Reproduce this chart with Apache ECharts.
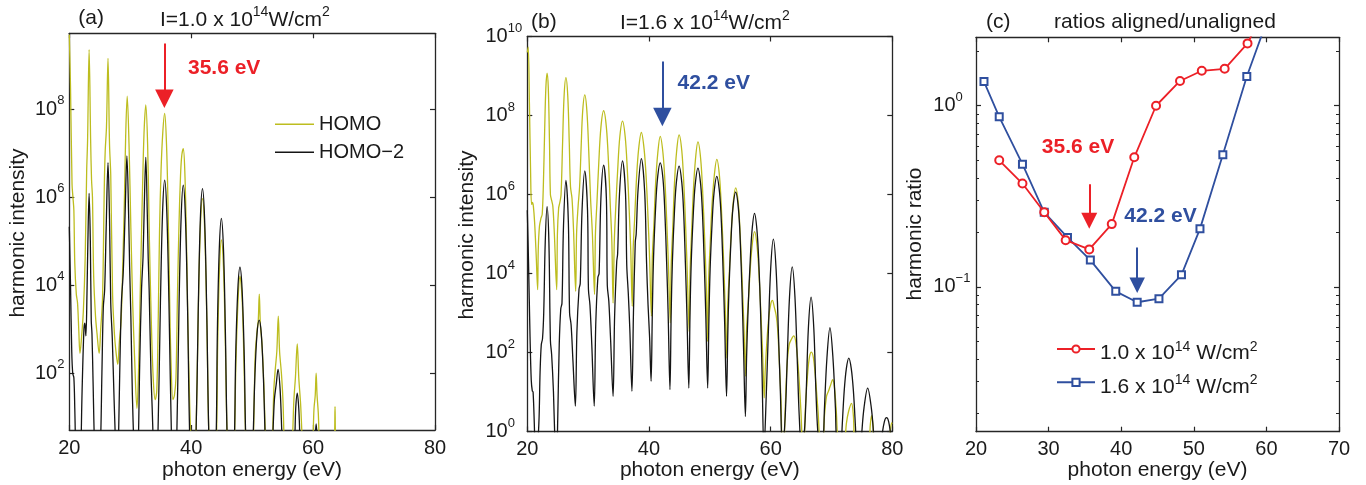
<!DOCTYPE html>
<html><head><meta charset="utf-8">
<script src="https://cdn.jsdelivr.net/npm/echarts@6/dist/echarts.min.js"></script>
<style>html,body{margin:0;padding:0;background:#fff}#c{width:1366px;height:485px}</style>
</head><body><div id="c"></div>
<script>
// ---------------- DATA ----------------
// Panels (a),(b): [photon energy (eV), log10(harmonic intensity)]
const panelA_HOMO_log10 = [
[20.0,9.7],[20.2,8.5],[20.45,6.3],[20.6,6.0],[20.75,5.7],[20.9,4.5],[21.15,3.8],[21.35,3.6],[21.55,3.0],[21.75,2.45],[22.0,2.8],[22.3,3.4],
[22.6,4.6],[22.85,6.6],[23.0,7.3],[23.25,9.36],[23.5,7.3],[23.65,6.4],[23.8,6.0],[24.0,4.2],[24.3,3.3],[24.55,2.9],[24.9,2.45],[25.15,3.0],[25.45,3.7],
[25.75,6.3],[25.9,7.08],[26.1,7.6],[26.35,9.16],[26.6,7.2],[26.8,6.5],[27.1,3.8],[27.4,2.9],[27.65,2.5],[27.95,2.2],[28.2,2.7],[28.5,3.2],
[28.8,4.6],[29.05,6.0],[29.25,7.4],[29.5,8.30],[29.8,7.2],[30.1,5.3],[30.4,3.6],[30.7,2.4],[31.1,1.2],[31.35,2.0],[31.6,3.6],
[31.85,5.2],[32.1,6.7],[32.3,7.6],[32.55,8.10],[32.85,7.2],[33.1,5.3],[33.45,3.2],[33.78,1.85],[34.1,1.4],[34.35,1.6],[34.6,3.3],
[34.8,5.2],[35.05,6.6],[35.35,7.5],[35.65,7.91],[35.95,7.2],[36.2,5.8],[36.45,3.8],[36.7,2.2],[37.0,1.4],[37.25,1.5],[37.5,1.9],[37.75,3.8],
[38.0,5.4],[38.25,6.5],[38.45,6.95],[38.7,7.11],[38.95,6.6],[39.2,5.2],[39.45,3.2],[39.75,1.3],[40.0,0.3],[40.35,-1],
[40.75,0.3],[41.15,3.3],[41.5,5.3],[41.85,5.97],[42.2,5.3],[42.55,3.3],[42.95,0.3],[43.5,-1],
[44.1,0.3],[44.35,2.7],[44.65,4.4],[44.95,5.03],[45.3,4.4],[45.6,2.7],[45.95,0.3],[46.5,-1],
[47.05,0.3],[47.35,2.3],[47.7,3.7],[48.0,4.2],[48.35,3.7],[48.65,2.3],[49.0,0.3],[49.6,-1],
[50.15,0.3],[50.5,2.4],[50.8,2.95],[51.0,3.2],[51.17,3.8],[51.35,3.1],[51.6,2.7],[51.9,1.8],[52.25,0.3],[52.8,-1],
[53.3,0.3],[53.55,1.6],[53.8,2.1],[54.05,2.5],[54.29,3.3],[54.5,2.5],[54.8,2.0],[55.05,1.4],[55.3,0.3],[55.9,-1],
[56.55,0.3],[56.85,1.4],[57.1,1.9],[57.4,2.67],[57.65,1.9],[57.95,1.3],[58.3,0.3],[59.1,-1],
[59.9,0.3],[60.15,1.2],[60.35,1.5],[60.5,2.0],[60.65,1.5],[60.85,1.1],[61.1,0.3],[62.2,-1],
[63.45,0.3],[63.6,1.24],[63.72,0.3],[64.5,-1],[80,-1]
];
const panelA_HOMO2_log10 = [
[20.0,5.33],[20.2,4.0],[20.4,2.5],[20.56,2.0],[20.75,1.9],[20.9,1.2],[21.1,0.0],[21.5,-1],
[21.85,0.0],[22.1,1.6],[22.4,3.0],[22.55,3.14],[22.72,2.85],[22.9,3.8],[23.05,5.0],[23.25,6.09],[23.45,5.0],[23.6,3.2],[23.72,2.9],[23.9,1.8],[24.15,0.3],[24.6,-1],
[25.1,0.3],[25.35,2.0],[25.58,3.5],[25.8,3.9],[26.05,5.3],[26.35,6.79],[26.6,5.5],[26.8,3.6],[27.05,2.8],[27.35,1.4],[27.6,0.3],[27.85,-1],
[28.05,0.3],[28.3,2.2],[28.55,3.6],[28.85,4.3],[29.15,5.6],[29.45,6.94],[29.75,5.5],[29.9,4.4],[30.1,3.3],[30.35,1.5],[30.6,0.3],[30.9,-1],
[31.3,0.3],[31.55,2.2],[31.85,3.9],[32.1,4.65],[32.3,5.8],[32.55,6.91],[32.8,5.6],[32.95,4.6],[33.1,3.9],[33.4,2.0],[33.6,1.2],[33.8,0.3],[34.1,-1],
[34.5,0.3],[34.95,3.6],[35.3,5.65],[35.65,6.39],[36.0,5.65],[36.35,3.6],[36.8,0.3],[37.2,-1],
[37.6,0.3],[38.0,3.5],[38.35,5.55],[38.7,6.28],[39.05,5.55],[39.4,3.5],[39.8,0.3],[40.3,-1],
[40.75,0.3],[41.15,3.4],[41.5,5.5],[41.85,6.2],[42.2,5.5],[42.55,3.4],[42.95,0.3],[43.5,-1],
[44.05,0.3],[44.3,3.0],[44.6,4.8],[44.95,5.52],[45.3,4.8],[45.6,3.0],[45.95,0.3],[46.5,-1],
[47.05,0.3],[47.3,2.4],[47.65,3.9],[48.0,4.41],[48.35,3.9],[48.7,2.4],[49.0,0.3],[49.6,-1],
[50.1,0.3],[50.45,1.94],[50.8,2.9],[51.15,3.21],[51.5,2.9],[51.85,1.9],[52.2,0.3],[52.7,-1],
[53.3,0.3],[53.65,1.4],[53.95,1.75],[54.25,2.09],[54.6,1.6],[55.0,0.3],[55.8,-1],
[56.9,0.3],[57.15,1.2],[57.4,1.55],[57.65,1.2],[57.95,0.3],[59.0,-1],
[60.25,0.3],[60.5,0.85],[60.75,0.3],[61.5,-1],[80,-1]
];
const panelB_HOMO_log10 = [
[20.0,9.6],[20.15,9.73],[20.35,8.3],[20.55,6.5],[20.7,5.75],[20.85,5.8],[21.0,5.7],[21.2,5.3],[21.45,4.5],[21.7,3.59],
[21.8,4.6],[22.0,5.2],[22.25,5.4],[22.45,5.5],[22.65,6.3],[22.85,7.6],[23.05,8.7],[23.25,9.07],[23.45,8.7],[23.65,7.3],[23.8,6.0],[24.0,5.85],[24.2,5.7],[24.45,5.0],[24.83,3.59],
[24.95,5.0],[25.15,5.65],[25.35,5.8],[25.55,6.0],[25.8,7.3],[26.05,8.5],[26.35,8.96],[26.65,8.5],[26.9,7.3],[27.1,6.2],[27.35,5.9],[27.6,5.1],[27.95,3.55],
[28.1,5.0],[28.35,5.7],[28.6,6.2],[28.85,7.2],[29.1,8.1],[29.45,8.52],[29.8,8.1],[30.1,7.1],[30.4,5.9],[30.7,5.0],[31.05,3.47],
[31.2,5.0],[31.45,5.8],[31.75,6.8],[32.1,7.7],[32.55,8.12],[33.0,7.7],[33.35,6.8],[33.65,5.7],[33.9,4.8],[34.1,3.25],
[34.3,4.8],[34.55,5.7],[34.85,6.6],[35.2,7.45],[35.65,7.86],[36.1,7.45],[36.45,6.6],[36.75,5.6],[37.0,4.6],[37.25,3.17],
[37.4,4.6],[37.65,5.4],[37.95,6.4],[38.3,7.15],[38.75,7.57],[39.2,7.15],[39.55,6.4],[39.85,5.4],[40.1,4.4],[40.4,2.92],
[40.55,4.4],[40.8,5.2],[41.1,6.3],[41.45,7.05],[41.85,7.47],[42.3,7.05],[42.65,6.25],[42.95,5.2],[43.2,4.2],[43.5,2.75],
[43.65,4.2],[43.9,5.1],[44.2,6.3],[44.55,7.1],[44.95,7.51],[45.4,7.1],[45.75,6.2],[46.05,5.1],[46.3,4.0],[46.6,2.53],
[46.75,4.0],[47.0,5.0],[47.3,6.1],[47.65,6.9],[48.05,7.33],[48.5,6.9],[48.85,6.0],[49.15,4.9],[49.4,3.8],[49.65,2.28],
[49.8,3.8],[50.05,4.7],[50.35,5.7],[50.75,6.5],[51.15,6.89],[51.6,6.45],[51.95,5.5],[52.25,4.4],[52.5,3.3],[52.8,1.86],
[52.95,3.2],[53.2,4.0],[53.5,5.0],[53.85,5.8],[54.25,6.17],[54.7,5.75],[55.05,4.8],[55.35,3.7],[55.6,2.7],[55.9,1.40],
[56.05,2.6],[56.3,3.2],[56.6,4.0],[56.95,4.7],[57.35,5.06],[57.8,4.65],[58.15,3.8],[58.45,2.8],[58.7,1.9],[58.95,0.85],
[59.1,1.5],[59.35,2.2],[59.7,2.9],[60.05,3.25],[60.3,3.32],[60.6,3.15],[60.9,2.95],[61.15,2.6],[61.45,1.7],[61.7,0.8],[61.95,-0.5],
[62.2,-0.3],[62.45,0.8],[62.75,1.8],[63.05,2.2],[63.3,2.3],[63.8,2.42],[64.2,2.2],[64.6,1.5],[64.95,0.6],[65.3,-0.3],
[65.45,-0.3],[65.75,0.7],[66.1,1.5],[66.4,1.9],[66.7,2.01],[67.05,1.85],[67.4,1.3],[67.8,0.5],[68.2,-0.3],
[68.55,-0.3],[68.85,0.4],[69.2,0.9],[69.5,1.02],[69.8,1.15],[70.2,1.31],[70.5,1.1],[70.8,0.5],[71.1,-0.3],
[71.6,-0.5],[72.15,-0.3],[72.45,0.2],[72.8,0.5],[73.3,0.71],[73.6,0.4],[73.85,-0.3],
[75.0,-0.5],[76.1,-0.3],[76.4,0.2],[76.6,0.40],[76.8,0.2],[77.05,-0.3],
[78.3,-0.5],[79.45,-0.3],[79.7,0.05],[79.9,0.22],[80.0,0.2]
];
const panelB_HOMO2_log10 = [
[20.0,5.6],[20.2,4.3],[20.45,2.4],[20.65,1.3],[20.82,1.03],[20.95,1.0],[21.15,0.2],[21.4,-1],
[21.9,0.2],[22.1,1.5],[22.3,2.2],[22.5,2.35],[22.7,3.0],[22.95,4.8],[23.25,5.69],[23.55,4.8],[23.8,2.3],[24.0,1.95],[24.3,1.0],[24.55,-0.3],[24.8,-1],
[25.0,0.3],[25.25,2.2],[25.5,3.1],[25.7,3.25],[25.95,5.2],[26.35,6.36],[26.75,5.3],[26.95,3.0],[27.2,2.7],[27.5,1.8],[27.9,0.64],
[28.15,2.5],[28.5,3.6],[28.7,3.75],[29.0,5.6],[29.45,6.60],[29.9,5.6],[30.05,3.6],[30.3,3.2],[30.6,2.2],[31.0,0.64],
[31.25,2.7],[31.6,3.9],[31.8,4.0],[32.1,5.9],[32.55,6.74],[33.0,5.9],[33.15,3.7],[33.4,3.3],[33.7,2.3],[34.1,0.89],
[34.35,2.9],[34.7,4.3],[34.85,4.5],[35.15,6.0],[35.65,6.85],[36.15,6.0],[36.35,4.2],[36.6,3.5],[36.85,2.6],[37.2,1.02],
[37.45,3.0],[37.75,4.8],[37.9,5.0],[38.2,6.1],[38.75,6.91],[39.3,6.05],[39.6,4.3],[39.85,3.2],[40.1,2.4],[40.35,1.27],
[40.55,3.0],[40.75,4.4],[41.1,5.7],[41.4,6.4],[41.85,6.80],[42.3,6.4],[42.6,5.6],[42.9,4.3],[43.15,3.0],[43.45,1.06],
[43.65,3.0],[43.85,4.3],[44.2,5.6],[44.5,6.3],[44.95,6.72],[45.4,6.3],[45.7,5.55],[46.0,4.2],[46.25,2.9],[46.55,1.10],
[46.75,3.0],[46.95,4.3],[47.3,5.55],[47.6,6.25],[48.05,6.67],[48.5,6.25],[48.8,5.5],[49.1,4.2],[49.35,2.9],[49.65,1.10],
[49.85,2.8],[50.05,4.1],[50.4,5.35],[50.7,6.05],[51.15,6.46],[51.6,6.05],[51.9,5.3],[52.2,4.0],[52.45,2.7],[52.75,0.89],
[52.95,2.4],[53.15,3.6],[53.5,4.9],[53.8,5.65],[54.25,6.06],[54.7,5.65],[55.0,4.85],[55.3,3.5],[55.55,2.1],[55.85,0.38],
[56.05,1.9],[56.3,3.1],[56.65,4.35],[56.95,5.1],[57.35,5.52],[57.75,5.1],[58.05,4.3],[58.35,3.0],[58.6,1.4],[58.9,-0.5],
[59.3,1.0],[59.6,2.4],[60.0,4.1],[60.45,4.87],[60.9,4.1],[61.3,2.4],[61.6,1.0],[61.95,-0.5],
[62.4,0.4],[62.7,1.7],[63.1,3.4],[63.55,4.17],[64.0,3.4],[64.4,1.7],[64.7,0.4],[65.1,-0.5],
[65.55,0.0],[65.85,1.0],[66.2,2.6],[66.65,3.40],[67.1,2.6],[67.45,1.0],[67.75,0.0],[68.15,-0.5],
[68.6,-0.3],[68.85,0.6],[69.25,1.85],[69.75,2.63],[70.25,1.85],[70.65,0.6],[70.9,-0.3],
[71.55,-0.5],[71.75,0.1],[72.1,1.04],[72.45,1.6],[72.85,1.86],[73.25,1.6],[73.6,1.04],[73.95,0.1],[74.15,-0.5],
[74.8,-0.5],[75.0,0.0],[75.35,0.6],[75.95,1.10],[76.55,0.6],[76.9,0.0],[77.1,-0.5],
[77.95,-0.5],[78.3,-0.1],[78.7,0.25],[79.05,0.35],[79.4,0.25],[79.75,-0.1],[80.0,-0.4]
];
// Panel (c): harmonic ratio aligned/unaligned
const panelC_energy_I10 = [23.2, 26.4, 29.4, 32.35, 35.6, 38.7, 41.8, 44.8, 48.1, 51.1, 54.25, 57.4, 60.5];
const panelC_ratio_I10  = [0.50, 0.372, 0.258, 0.181, 0.161, 0.222, 0.519, 1.0, 1.37, 1.56, 1.60, 2.21, 3.9];
const panelC_energy_I16 = [21.1, 23.2, 26.4, 29.4, 32.6, 35.75, 39.25, 42.2, 45.2, 48.3, 50.85, 54.0, 57.3, 60.4];
const panelC_ratio_I16  = [1.36, 0.869, 0.476, 0.258, 0.1875, 0.1405, 0.0944, 0.0822, 0.0860, 0.1165, 0.209, 0.536, 1.45, 3.2];
// Ticks
const xTicksAB = [20, 40, 60, 80];
const yTicksA_exp = [2, 4, 6, 8];
const yTicksB_exp = [0, 2, 4, 6, 8, 10];
const xTicksC = [20, 30, 40, 50, 60, 70];
const yMajorC = [0.1, 1];
const yMinorC = [0.02,0.03,0.04,0.05,0.06,0.07,0.08,0.09,0.2,0.3,0.4,0.5,0.6,0.7,0.8,0.9,2];
// Names
const NAME_HOMO = 'HOMO', NAME_HOMO2 = 'HOMO\u22122';
const NAME_I10 = '1.0 x 10^14 W/cm^2', NAME_I16 = '1.6 x 10^14 W/cm^2';

// ---------------- STYLE ----------------
const FONT = '"Liberation Sans", Arial, Helvetica, sans-serif';
const TXT = '#1a1a1a', AXC = '#262626';
const C_YEL = '#BDBD1F', C_BLK = '#151515', C_RED = '#EC2027', C_BLU = '#2F4F9F';
const L = Math.log10;

const supRich = {
  b: {fontSize: 20, lineHeight: 30, fontFamily: FONT, color: TXT},
  s: {fontSize: 13, lineHeight: 13, verticalAlign: 'top', fontFamily: FONT, color: TXT}
};
const expLabel = v => '{b|10}{s|' + String(Math.round(v)).replace('-', '\u2212') + '}';

const axLine = {show: true, onZero: false, lineStyle: {color: AXC, width: 1.3}};
function xPair(gi, min, max, interval, ticks) {
  const base = {type: 'value', gridIndex: gi, min, max, interval, splitLine: {show: false}, axisLine: axLine};
  return [
    Object.assign({}, base, {position: 'bottom',
      axisTick: {show: true, inside: true, length: 5, customValues: ticks, lineStyle: {color: AXC, width: 1.2}},
      axisLabel: {show: true, customValues: ticks, margin: 8, fontSize: 20, fontFamily: FONT, color: TXT}}),
    Object.assign({}, base, {position: 'top',
      axisTick: {show: true, inside: true, length: 5, customValues: ticks, lineStyle: {color: AXC, width: 1.2}},
      axisLabel: {show: false}})
  ];
}
function yPair(gi, min, max, ticks, margin) {
  const base = {type: 'value', gridIndex: gi, min, max, splitLine: {show: false}, axisLine: axLine};
  return [
    Object.assign({}, base, {position: 'left',
      axisTick: {show: true, inside: true, length: 5, customValues: ticks, lineStyle: {color: AXC, width: 1.2}},
      axisLabel: {show: true, customValues: ticks, formatter: expLabel, rich: supRich, align: 'left', margin}}),
    Object.assign({}, base, {position: 'right',
      axisTick: {show: true, inside: true, length: 5, customValues: ticks, lineStyle: {color: AXC, width: 1.2}},
      axisLabel: {show: false}})
  ];
}

const yMinC = -1.8, yMaxC = 0.378;
const xAxis = [].concat(
  xPair(0, 20, 80, 20, xTicksAB),
  xPair(1, 20, 80, 20, xTicksAB),
  xPair(2, 20, 70, 10, xTicksC)
);
const yAxis = [].concat(
  yPair(0, 0.71, 9.73, yTicksA_exp, 34.3),
  yPair(1, 0, 10, yTicksB_exp, 41.8),
  yPair(2, yMinC, yMaxC, yMajorC.map(L), 42.7),
  [
    {type: 'value', gridIndex: 2, min: yMinC, max: yMaxC, position: 'left', splitLine: {show: false},
     axisLine: {show: false, onZero: false}, axisLabel: {show: false},
     axisTick: {show: true, inside: true, length: 3, customValues: yMinorC.map(L), lineStyle: {color: AXC, width: 1}}},
    {type: 'value', gridIndex: 2, min: yMinC, max: yMaxC, position: 'right', splitLine: {show: false},
     axisLine: {show: false, onZero: false}, axisLabel: {show: false},
     axisTick: {show: true, inside: true, length: 3, customValues: yMinorC.map(L), lineStyle: {color: AXC, width: 1}}}
  ]
);

function arrow(color, x, y0, y1, size) {
  return {silent: true, symbol: ['none', 'triangle'], symbolSize: size,
    lineStyle: {color, width: 2, type: 'solid'}, itemStyle: {color},
    label: {show: false}, emphasis: {disabled: true}, animation: false,
    data: [[{coord: [x, y0]}, {coord: [x, y1]}]]};
}
function note(color, text, x, y) {
  return {silent: true, symbol: 'rect', symbolSize: 1, itemStyle: {color: 'rgba(0,0,0,0)'},
    label: {show: true, position: 'inside', formatter: text, color, fontSize: 21, fontWeight: 'bold', fontFamily: FONT},
    emphasis: {disabled: true}, animation: false, data: [{coord: [x, y]}]};
}
const lineSeries = (name, xi, yi, data, color, z) => ({
  name, type: 'line', xAxisIndex: xi, yAxisIndex: yi, data, symbol: 'none', showSymbol: false,
  smooth: 0.35, clip: true, z, lineStyle: {color, width: 1.3}, itemStyle: {color}, emphasis: {disabled: true}
});

const series = [
  lineSeries(NAME_HOMO, 0, 0, panelA_HOMO_log10, C_YEL, 2),
  Object.assign(lineSeries(NAME_HOMO2, 0, 0, panelA_HOMO2_log10, C_BLK, 3), {
    markLine: arrow(C_RED, 35.6, 9.5, 8.24, 18.5),
    markPoint: note(C_RED, '35.6 eV', 45.41, 8.94)
  }),
  lineSeries('HOMO (b)', 2, 2, panelB_HOMO_log10, C_YEL, 2),
  Object.assign(lineSeries('HOMO-2 (b)', 2, 2, panelB_HOMO2_log10, C_BLK, 3), {
    markLine: arrow(C_BLU, 42.2, 9.37, 7.96, 18.5),
    markPoint: note(C_BLU, '42.2 eV', 50.66, 8.82)
  }),
  {name: NAME_I10, type: 'line', xAxisIndex: 4, yAxisIndex: 4, clip: true, z: 3,
   data: panelC_energy_I10.map((e, i) => [e, L(panelC_ratio_I10[i])]),
   symbol: 'emptyCircle', symbolSize: 8, showSymbol: true,
   lineStyle: {color: C_RED, width: 1.8}, itemStyle: {color: C_RED, borderColor: C_RED, borderWidth: 1.4},
   emphasis: {disabled: true},
   markLine: arrow(C_RED, 35.6, L(0.369), L(0.232), 16),
   markPoint: note(C_RED, '35.6 eV', 34.05, L(0.593))},
  {name: NAME_I16, type: 'line', xAxisIndex: 4, yAxisIndex: 4, clip: true, z: 2,
   data: panelC_energy_I16.map((e, i) => [e, L(panelC_ratio_I16[i])]),
   symbol: 'emptyRect', symbolSize: 7, showSymbol: true,
   lineStyle: {color: C_BLU, width: 1.8}, itemStyle: {color: C_BLU, borderColor: C_BLU, borderWidth: 1.4},
   emphasis: {disabled: true},
   markLine: arrow(C_BLU, 42.2, L(0.165), L(0.102), 15.5),
   markPoint: note(C_BLU, '42.2 eV', 45.41, L(0.244))}
];

const legRich = {
  b: {fontSize: 21, lineHeight: 30, verticalAlign: 'bottom', fontFamily: FONT, color: TXT},
  s: {fontSize: 14, verticalAlign: 'top', padding: [6, 0, 0, 0], fontFamily: FONT, color: TXT}
};
const legFmt = name => name === NAME_I10 ? '{b|1.0 x 10}{s|14}{b| W/cm}{s|2}' : '{b|1.6 x 10}{s|14}{b| W/cm}{s|2}';
const legendC = (name, top) => ({data: [name], left: 1056, top, itemWidth: 38, itemHeight: 9, padding: 0,
  selectedMode: false, formatter: legFmt, textStyle: {fontSize: 21, fontFamily: FONT, color: TXT, rich: legRich}});

const titleRich = {
  b: {fontSize: 21, lineHeight: 30, fontFamily: FONT, fill: TXT, color: TXT},
  s: {fontSize: 14, lineHeight: 14, verticalAlign: 'top', fontFamily: FONT, fill: TXT, color: TXT}
};
const T = (text, x, y, extra) => Object.assign({type: 'text', x, y, silent: true,
  style: {text, fill: TXT, font: '21px ' + FONT, align: 'left', verticalAlign: 'middle', rich: titleRich}}, extra || {});
const graphic = [
  T('(a)', 78.3, 18.3),
  T('{b|I=1.0 x 10}{s|14}{b|W/cm}{s|2}', 160, 20),
  T('(b)', 531, 22),
  T('{b|I=1.6 x 10}{s|14}{b|W/cm}{s|2}', 620, 23.7),
  T('(c)', 986, 22.7),
  T('ratios aligned/unaligned', 1054, 22.5),
  T('harmonic intensity', 18.5, 233, {rotation: Math.PI / 2}),
  T('harmonic intensity', 467, 235, {rotation: Math.PI / 2}),
  T('harmonic ratio', 915.5, 234, {rotation: Math.PI / 2}),
  T('photon energy (eV)', 252, 470),
  T('photon energy (eV)', 709.8, 470),
  T('photon energy (eV)', 1157.5, 470)
];
graphic.forEach(g => { if (g.rotation || /photon/.test(g.style.text)) g.style.align = 'center'; });

const chart = echarts.init(document.getElementById('c'), null, {renderer: 'canvas'});
chart.setOption({
  animation: false,
  backgroundColor: '#fff',
  grid: [
    {left: 69.3, top: 33.3, width: 365.7, height: 396.7},
    {left: 527.3, top: 36.5, width: 365, height: 395},
    {left: 976, top: 37.3, width: 363, height: 394.4}
  ],
  xAxis, yAxis, series, graphic,
  legend: [
    {data: [NAME_HOMO, NAME_HOMO2], orient: 'vertical', left: 275, top: 113.3, itemWidth: 39, itemHeight: 1.6,
     icon: 'rect', itemGap: 6, padding: 0, selectedMode: false,
     textStyle: {fontSize: 20, fontFamily: FONT, color: TXT, lineHeight: 22}},
    legendC(NAME_I10, 340),
    legendC(NAME_I16, 373.3)
  ]
});
</script>
</body></html>
